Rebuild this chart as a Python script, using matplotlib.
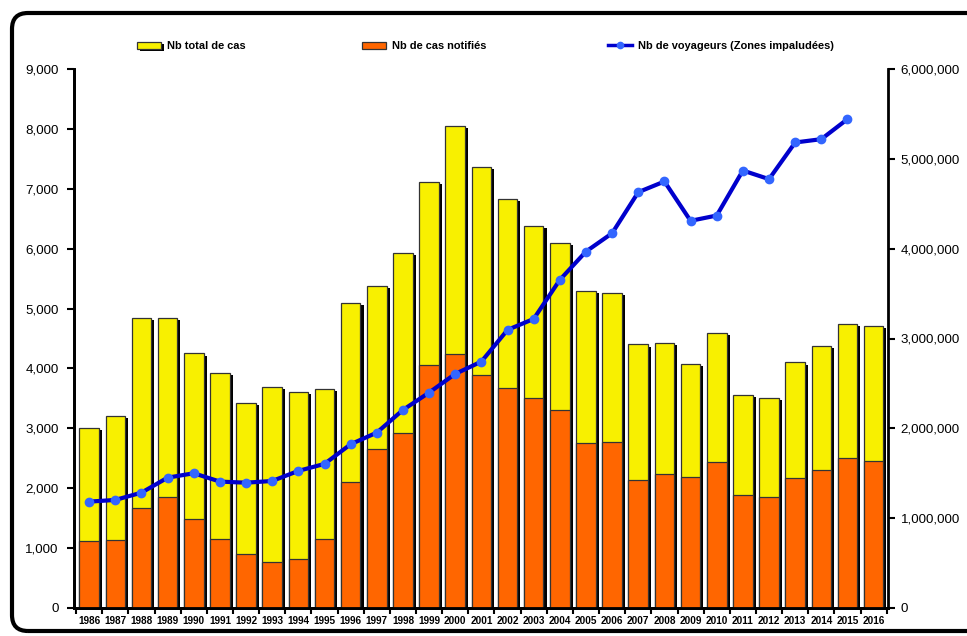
import matplotlib
matplotlib.use("Agg")
import matplotlib.pyplot as plt
import matplotlib.patheffects as pe
from matplotlib.patches import FancyBboxPatch
from matplotlib.transforms import IdentityTransform
from matplotlib.ticker import FuncFormatter
import numpy as np

years = [str(y) for y in range(1986, 2017)]
total_cases = [3000, 3200, 4850, 4850, 4250, 3930, 3420, 3690, 3600, 3660,
               5100, 5370, 5930, 7120, 8050, 7370, 6830, 6380, 6100, 5300,
               5260, 4400, 4430, 4080, 4590, 3550, 3500, 4100, 4370, 4750, 4710]
notified_cases = [1120, 1140, 1670, 1860, 1490, 1160, 900, 770, 810, 1160,
                  2110, 2660, 2930, 4060, 4240, 3890, 3670, 3500, 3300, 2750,
                  2770, 2130, 2240, 2190, 2430, 1880, 1850, 2170, 2300, 2500, 2450]
travellers = [1184000, 1203000, 1284000, 1451000, 1500000, 1407000, 1395000,
              1414000, 1526000, 1604000, 1823000, 1952000, 2205000, 2398000,
              2606000, 2743000, 3096000, 3218000, 3653000, 3968000, 4172000,
              4629000, 4748000, 4310000, 4369000, 4870000, 4774000, 5182000,
              5219000, 5442000, None]

legend_labels = ["Nb total de cas", "Nb de cas notifiés", "Nb de voyageurs (Zones impaludées)"]

plt.rcParams["font.family"] = ["Liberation Sans", "DejaVu Sans"]

fig = plt.figure(figsize=(9.67, 6.36), dpi=100)
ax = fig.add_axes([74/967, 1-608/636, (888-74)/967, (608-69)/636])
ax2 = ax.twinx()
ax.set_zorder(ax2.get_zorder() - 1)
ax2.patch.set_visible(False)

x = np.arange(len(years))
shadow = [pe.SimplePatchShadow(offset=(2.2, -1.5), shadow_rgbFace="black", alpha=1.0), pe.Normal()]
b1 = ax.bar(x, total_cases, width=0.75, color="#F8F000", edgecolor="#333333", linewidth=0.9, zorder=2)
for p in b1:
    p.set_path_effects(shadow)
b2 = ax.bar(x, notified_cases, width=0.75, color="#FF6600", edgecolor="#333333", linewidth=0.9, zorder=3)

tx = [i for i, v in enumerate(travellers) if v is not None]
tv = [v for v in travellers if v is not None]
l1, = ax2.plot(tx, tv, color="#0000CC", lw=3, marker="o", markersize=6,
               markerfacecolor="#3366FF", markeredgecolor="#3366FF", zorder=5)

ax.set_xlim(-0.58, len(years) - 0.45)
ax.set_ylim(0, 9000)
ax2.set_ylim(0, 6000000)
ax.set_yticks(np.arange(0, 9001, 1000))
ax2.set_yticks(np.arange(0, 6000001, 1000000))
ax.yaxis.set_major_formatter(FuncFormatter(lambda v, p: f"{int(v):,}"))
ax2.yaxis.set_major_formatter(FuncFormatter(lambda v, p: f"{int(v):,}"))

ax.set_xticks(np.arange(-0.5, len(years), 1))
ax.set_xticklabels([])
ax.set_xticks(x, minor=True)
ax.set_xticklabels(years, minor=True, fontsize=7.2, fontweight="bold")
ax.tick_params(axis="x", which="major", direction="out", length=4, width=1.5)
ax.tick_params(axis="x", which="minor", length=0, pad=6)
ax.tick_params(axis="y", direction="out", length=5, width=1.5, labelsize=9.6, pad=6)
ax2.tick_params(axis="y", direction="out", length=5, width=1.5, labelsize=9.6, pad=4)

for a in (ax, ax2):
    a.spines["top"].set_visible(False)
    for s in ("left", "right", "bottom"):
        a.spines[s].set_linewidth(2)
ax.spines["right"].set_visible(False)

leg_y = 1 - 46/636
leg_x = [137/967, 362/967, 608/967]
for h, lab, lx in zip([b1, b2, l1], legend_labels, leg_x):
    lg = fig.legend([h], [lab], loc="center left", bbox_to_anchor=(lx, leg_y),
                    frameon=False, borderpad=0, borderaxespad=0,
                    prop={"weight": "bold", "size": 7.9},
                    handlelength=2.2, handleheight=0.6, handletextpad=0.5)
    if h is l1:
        for ln in lg.get_lines():
            ln.set_markersize(4.5)
            ln.set_linewidth(2.5)

border = FancyBboxPatch((12, 5), 1000, 618, boxstyle="round,pad=0,rounding_size=16",
                        transform=IdentityTransform(), fill=False, lw=3, edgecolor="black")
fig.patches.append(border)

fig.savefig("out.png", dpi=100)
